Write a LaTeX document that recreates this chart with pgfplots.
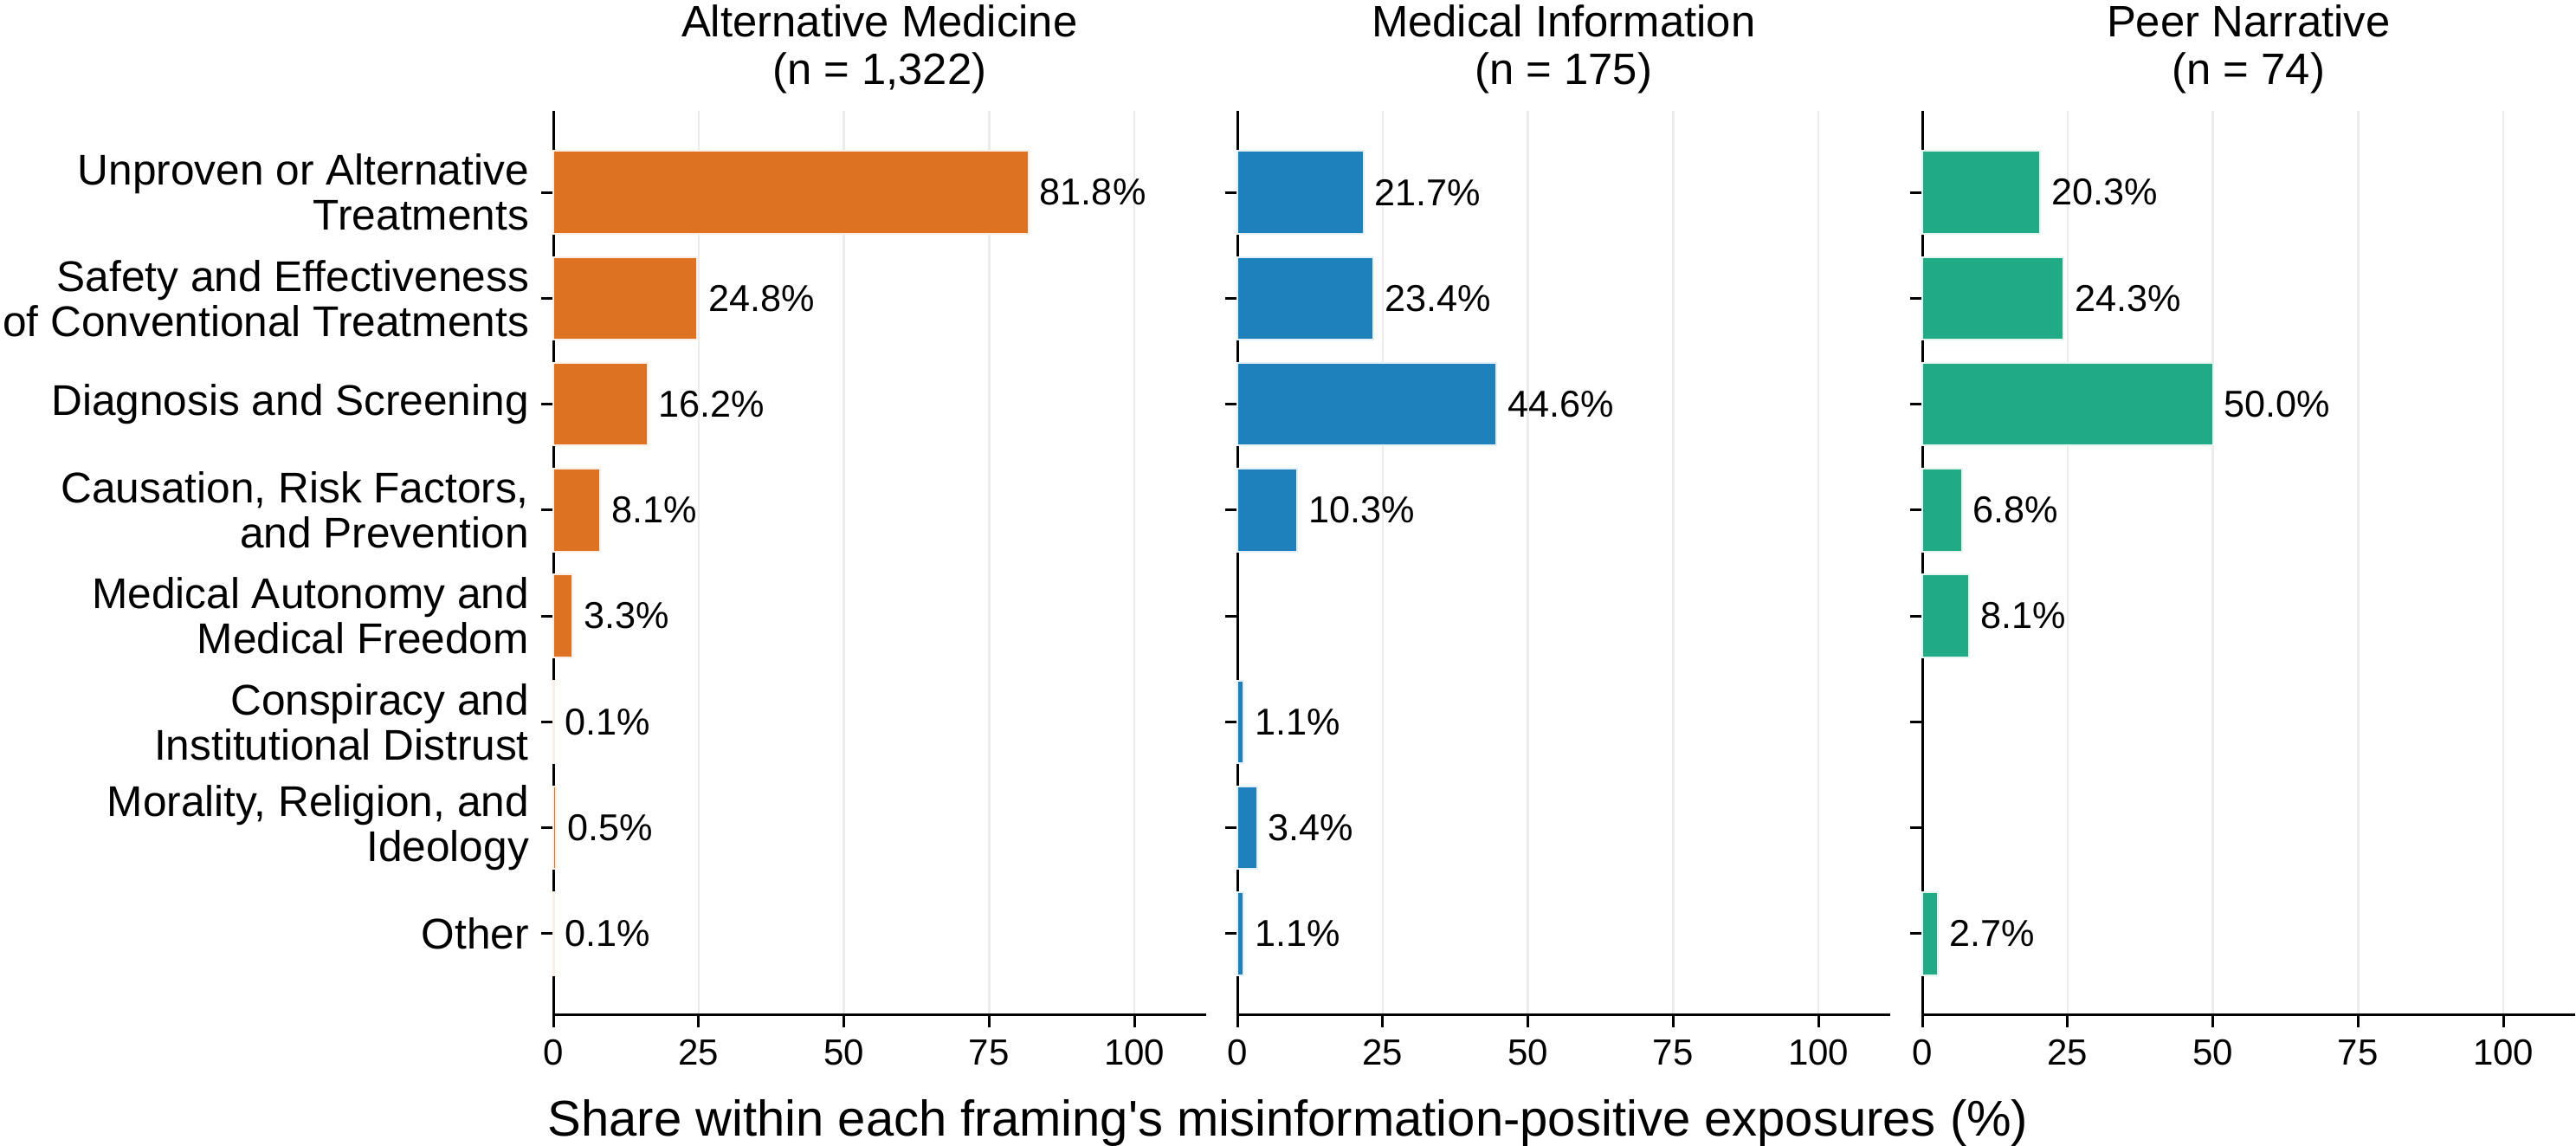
\documentclass[border=0pt]{standalone}
\usepackage{pgfplots}
\pgfplotsset{compat=1.18}
\usepackage{pgfplotstable}
\usepackage{fontspec}
\setmainfont{Liberation Sans}

\definecolor{altmed}{RGB}{221,114,35}
\definecolor{medinfo}{RGB}{31,129,187}
\definecolor{peer}{RGB}{33,170,134}
\definecolor{gridgray}{RGB}{235,235,235}

\newcommand{\titlefont}{\fontsize{12.7}{13}\selectfont}
\newcommand{\catfont}{\fontsize{12.4}{13}\selectfont}
\newcommand{\valfont}{\fontsize{10.8}{12}\selectfont}
\newcommand{\tickfont}{\fontsize{10.5}{12}\selectfont}
\newcommand{\labfont}{\fontsize{14.5}{16}\selectfont}

% pos 7 = top row (Unproven or Alternative Treatments), pos 0 = bottom row (Other)
\pgfplotstableread{
pos share
7 81.8
6 24.8
5 16.2
4 8.1
3 3.3
2 0.1
1 0.5
0 0.1
}\altmedtable

\pgfplotstableread{
pos share
7 21.7
6 23.4
5 44.6
4 10.3
2 1.1
1 3.4
0 1.1
}\medinfotable

\pgfplotstableread{
pos share
7 20.3
6 24.3
5 50.0
4 6.8
3 8.1
0 2.7
}\peertable

\pgfplotsset{
  framingpanel/.style={
    anchor=south west, scale only axis,
    width=188.4pt, height=261pt,
    xmin=0, xmax=112.3, ymin=-0.77, ymax=7.77,
    axis x line*=bottom, axis y line*=left,
    axis line style={line width=0.75pt, black},
    xtick={0,25,50,75,100}, ytick={0,...,7},
    tick align=outside, major tick length=3.5pt,
    tick style={line width=0.75pt, black},
    xmajorgrids, major grid style={line width=0.6pt, gridgray},
    tick label style={font=\tickfont},
    /pgf/number format/assume math mode=true,
    xbar, bar width=0.78, bar shift=0pt,
    point meta=x,
    nodes near coords={\pgfmathprintnumber[fixed,fixed zerofill,precision=1]{\pgfplotspointmeta}\%},
    nodes near coords style={anchor=west, font=\valfont, inner sep=0pt, xshift=3pt, text=black},
    clip=false,
  },
  nocatlabels/.style={yticklabel style={opacity=0}},
  panelbar/.style={fill=#1, draw=#1!12, line width=0.5pt},
}

\begin{document}
\begin{tikzpicture}
\useasboundingbox (0,0) rectangle (743.75pt,330.75pt);

\begin{axis}[framingpanel, at={(159.75pt,37.75pt)},
  yticklabels={Other,
    {Morality, Religion, and\\Ideology},
    {Conspiracy and\\Institutional Distrust},
    {Medical Autonomy and\\Medical Freedom},
    {Causation, Risk Factors,\\and Prevention},
    Diagnosis and Screening,
    {Safety and Effectiveness\\of Conventional Treatments},
    {Unproven or Alternative\\Treatments}},
  yticklabel style={font=\catfont, align=right}]
  \addplot[panelbar=altmed] table[x=share, y=pos] {\altmedtable};
  \node[anchor=base, yshift=21.3pt, font=\titlefont] at (rel axis cs:0.5,1) {Alternative Medicine};
  \node[anchor=base, yshift=7.5pt, font=\titlefont] at (rel axis cs:0.5,1) {(n = 1,322)};
\end{axis}

\begin{axis}[framingpanel, nocatlabels, at={(357.25pt,37.75pt)}]
  \addplot[panelbar=medinfo] table[x=share, y=pos] {\medinfotable};
  \node[anchor=base, yshift=21.3pt, font=\titlefont] at (rel axis cs:0.5,1) {Medical Information};
  \node[anchor=base, yshift=7.5pt, font=\titlefont] at (rel axis cs:0.5,1) {(n = 175)};
\end{axis}

\begin{axis}[framingpanel, nocatlabels, at={(555pt,37.75pt)}]
  \addplot[panelbar=peer] table[x=share, y=pos] {\peertable};
  \node[anchor=base, yshift=21.3pt, font=\titlefont] at (rel axis cs:0.5,1) {Peer Narrative};
  \node[anchor=base, yshift=7.5pt, font=\titlefont] at (rel axis cs:0.5,1) {(n = 74)};
\end{axis}

\node[anchor=base, font=\labfont] at (371.9pt,2.75pt)
  {Share within each framing\textquotesingle s misinformation-positive exposures (\%)};
\end{tikzpicture}
\end{document}
